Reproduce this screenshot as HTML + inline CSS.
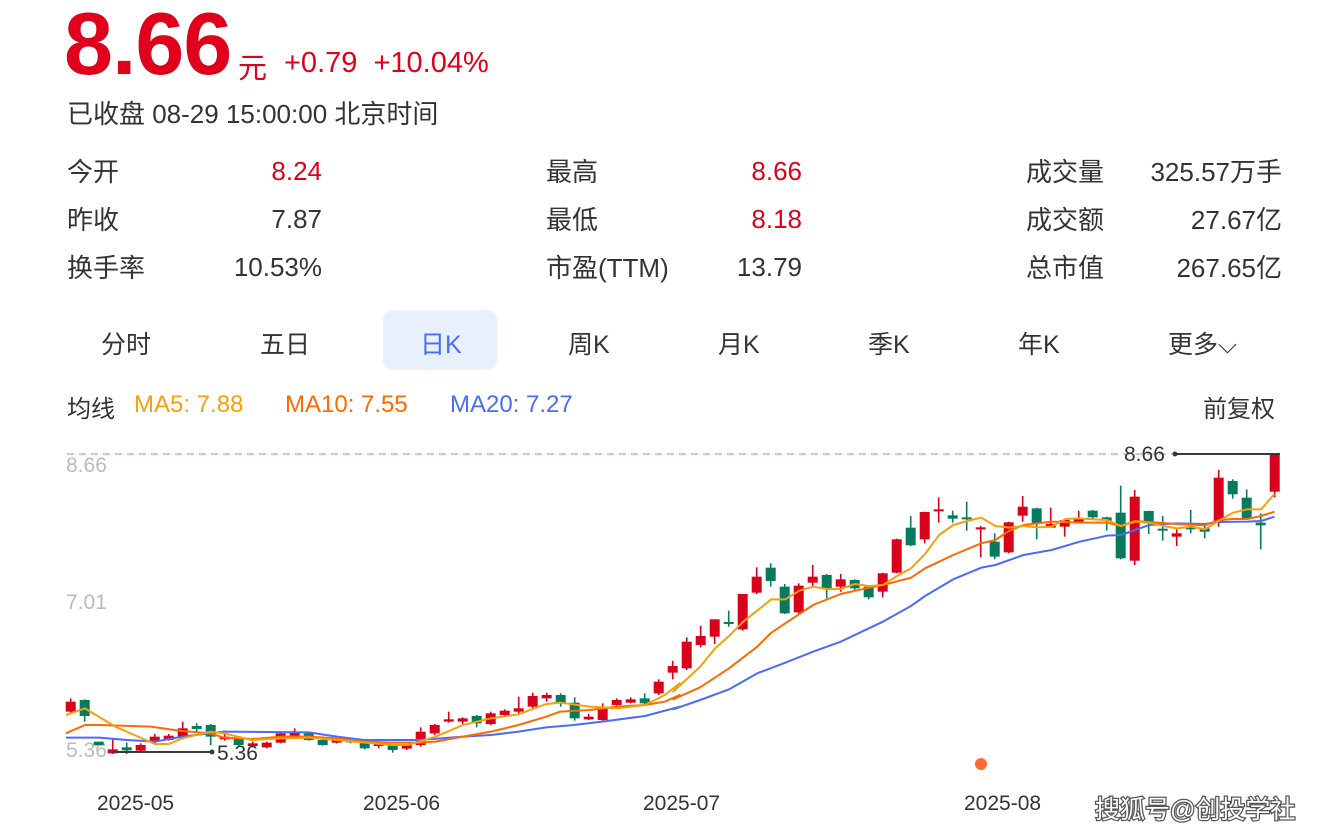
<!DOCTYPE html>
<html><head><meta charset="utf-8"><style>
body{margin:0;width:1337px;height:839px;background:#fff;overflow:hidden;font-family:"Liberation Sans","Noto Sans CJK SC",sans-serif;color:#333}
.a{position:absolute;white-space:nowrap}
.r{color:#e0001b}
.n{margin-top:4px}
</style></head><body>
<div class="a r" style="left:64px;top:-7px;font-size:88px;font-weight:bold;letter-spacing:-1px">8.66</div>
<div class="a r" style="left:238px;top:45px;font-size:29px">元</div>
<div class="a r" style="left:284px;top:47px;font-size:29px">+0.79&nbsp; +10.04%</div>
<div class="a" style="left:67px;top:94px;font-size:26px">已收盘 08-29 15:00:00 北京时间</div>

<div class="a" style="left:67px;top:152px;font-size:26px">今开</div>
<div class="a r n" style="left:220px;width:102px;text-align:right;top:152px;font-size:26px">8.24</div>
<div class="a" style="left:67px;top:200px;font-size:26px">昨收</div>
<div class="a n" style="left:220px;width:102px;text-align:right;top:200px;font-size:26px">7.87</div>
<div class="a" style="left:67px;top:248px;font-size:26px">换手率</div>
<div class="a n" style="left:200px;width:122px;text-align:right;top:248px;font-size:26px">10.53%</div>

<div class="a" style="left:546px;top:152px;font-size:26px">最高</div>
<div class="a r n" style="left:700px;width:102px;text-align:right;top:152px;font-size:26px">8.66</div>
<div class="a" style="left:546px;top:200px;font-size:26px">最低</div>
<div class="a r n" style="left:700px;width:102px;text-align:right;top:200px;font-size:26px">8.18</div>
<div class="a" style="left:546px;top:248px;font-size:26px">市盈(TTM)</div>
<div class="a n" style="left:700px;width:102px;text-align:right;top:248px;font-size:26px">13.79</div>

<div class="a" style="left:1026px;top:152px;font-size:26px">成交量</div>
<div class="a" style="left:1120px;width:162px;text-align:right;top:152px;font-size:26px">325.57万手</div>
<div class="a" style="left:1026px;top:200px;font-size:26px">成交额</div>
<div class="a" style="left:1120px;width:162px;text-align:right;top:200px;font-size:26px">27.67亿</div>
<div class="a" style="left:1026px;top:248px;font-size:26px">总市值</div>
<div class="a" style="left:1120px;width:162px;text-align:right;top:248px;font-size:26px">267.65亿</div>

<div class="a" style="left:383px;top:310px;width:114px;height:60px;background:#e8f0fd;border-radius:10px"></div>
<div class="a" style="left:101px;top:325px;font-size:25px">分时</div>
<div class="a" style="left:260px;top:325px;font-size:25px">五日</div>
<div class="a" style="left:420px;top:325px;font-size:25px;color:#4a6cf7">日K</div>
<div class="a" style="left:568px;top:325px;font-size:25px">周K</div>
<div class="a" style="left:718px;top:325px;font-size:25px">月K</div>
<div class="a" style="left:868px;top:325px;font-size:25px">季K</div>
<div class="a" style="left:1018px;top:325px;font-size:25px">年K</div>
<div class="a" style="left:1168px;top:325px;font-size:25px">更多⌵</div>

<div class="a" style="left:67px;top:389px;font-size:24px">均线</div>
<div class="a" style="left:134px;top:391px;font-size:24px;color:#f5a00f">MA5: 7.88</div>
<div class="a" style="left:285px;top:391px;font-size:24px;color:#ff6a00">MA10: 7.55</div>
<div class="a" style="left:450px;top:391px;font-size:24px;color:#4a6cf7">MA20: 7.27</div>
<div class="a" style="left:1203px;top:389px;font-size:24px">前复权</div>

<svg class="a" style="left:0;top:0" width="1337" height="839" id="s">
<line x1="67" y1="454" x2="1280" y2="454" stroke="#f4a0a0" stroke-width="1.5" stroke-dasharray="7,5"/>
<text x="66" y="472" font-size="21" fill="#bbb" font-family="Liberation Sans">8.66</text>
<text x="66" y="609" font-size="21" fill="#bbb" font-family="Liberation Sans">7.01</text>
<text x="66" y="757" font-size="21" fill="#bbb" font-family="Liberation Sans">5.36</text>
<g id="g"></g>
<line x1="113" y1="752" x2="212" y2="752" stroke="#333a44" stroke-width="2"/><circle cx="212" cy="752" r="2.5" fill="#333a44"/>
<text x="217" y="760" font-size="21" fill="#333" font-family="Liberation Sans">5.36</text>
<line x1="1175" y1="454" x2="1280" y2="454" stroke="#333a44" stroke-width="2"/><circle cx="1175" cy="454" r="2.5" fill="#333a44"/>
<text x="1124" y="461" font-size="21" fill="#333" font-family="Liberation Sans">8.66</text>
<circle cx="981" cy="764" r="6" fill="#ff6a33"/>
<text x="97" y="810" font-size="21" fill="#333" font-family="Liberation Sans">2025-05</text>
<text x="363" y="810" font-size="21" fill="#333" font-family="Liberation Sans">2025-06</text>
<text x="643" y="810" font-size="21" fill="#333" font-family="Liberation Sans">2025-07</text>
<text x="964" y="810" font-size="21" fill="#333" font-family="Liberation Sans">2025-08</text>
<text x="1095" y="818" font-size="25" fill="#fff" stroke="#555" stroke-width="2.5" paint-order="stroke" font-family="Liberation Sans,Noto Sans CJK SC,sans-serif">搜狐号@创投学社</text>
</svg>
<script>
var z1=[[785,815,775,818,'r'],[780,828,778,845,'g'],[908,913,905,915,'g'],[928,940,895,942,'r'],[925,928,908,942,'g'],[915,932,910,934,'r'],[890,905,882,910,'r'],[887,900,882,902,'r'],[865,890,845,892,'r'],[861,864,850,875,'g'],[855,890,852,915,'g'],[890,898,882,902,'r'],[895,915,892,918,'g'],[910,918,905,922,'r'],[908,922,905,925,'r'],[880,908,875,910,'r'],[875,890,865,892,'r'],[880,900,878,902,'g'],[900,915,895,917,'g'],[895,908,890,910,'r'],[900,907,895,910,'g'],[908,925,905,928,'g'],[910,918,905,925,'r'],[915,930,912,938,'g'],[915,926,912,930,'r'],[875,915,862,920,'r'],[855,880,852,885,'r'],[838,845,815,848,'r'],[835,845,832,852,'r'],[828,850,825,862,'g'],[820,852,815,855,'r'],[812,825,808,828,'r'],[805,815,770,820,'r'],[768,800,758,805,'r'],[765,775,758,785,'r'],[765,790,760,800,'g'],[788,835,772,842,'g'],[830,838,822,840,'r'],[800,840,790,845,'r'],[780,795,775,798,'r'],[778,788,772,790,'r'],[775,790,760,795,'g'],[725,760,718,765,'r'],[678,698,662,718,'r']];
var z2=[[605,685,592,690,'r'],[588,615,558,622,'r'],[538,590,538,612,'r'],[546,552,512,560,'g'],[462,568,462,572,'r'],[410,458,382,462,'r'],[383,423,370,440,'g'],[440,520,432,522,'g'],[437,517,430,520,'r'],[410,428,375,440,'r'],[405,445,402,475,'g'],[418,440,402,455,'r'],[420,445,418,452,'g'],[440,472,438,478,'g'],[400,455,398,472,'r'],[298,398,296,400,'r'],[263,316,228,318,'g'],[216,298,215,310,'r'],[208,214,172,248,'r'],[229,233,212,248,'g'],[232,238,185,272,'g'],[262,268,258,352,'r'],[305,350,280,358,'g'],[247,337,245,340,'r'],[200,227,168,245,'r'],[205,250,203,298,'g'],[255,260,203,262,'r'],[240,260,238,290,'r'],[235,245,212,250,'r'],[212,232,210,240,'g'],[232,242,230,272,'g'],[218,355,137,358,'g'],[170,362,150,375,'r'],[213,250,212,282,'g'],[266,272,228,302,'g'],[280,290,268,318,'r'],[262,268,210,280,'g'],[268,272,255,295,'g'],[113,243,90,260,'r'],[123,163,118,176,'g'],[173,235,148,238,'g'],[248,256,220,328,'g'],[42,155,40,172,'r']];
var h='',c,F=3;
function cd(x,d){var t=440+d[0]/F,b=440+d[1]/F,wt=440+d[2]/F,wb=440+d[3]/F;c=d[4]=='r'?'#d9001b':'#0a7a5e';if(b-t<2){t-=1;b+=1;}
h+='<line x1="'+x+'" y1="'+wt+'" x2="'+x+'" y2="'+wb+'" stroke="'+c+'" stroke-width="1.6"/><rect x="'+(x-5)+'" y="'+t+'" width="10" height="'+(b-t)+'" fill="'+c+'"/>';}
z1.forEach(function(d,i){cd(70.7+i*14,d)});
z2.forEach(function(d,i){cd(70.7+(44+i)*14,d)});
function pl(a,b,col){var p=a.map(function(q){return (60+q[0]/2.53)+','+(440+q[1]/F)}).concat(b.map(function(q){return (660+q[0]/2.49)+','+(440+q[1]/F)}));h+='<polyline points="'+p.join(' ')+'" fill="none" stroke="'+col+'" stroke-width="2" stroke-linejoin="round"/>';}
pl([[15,893],[100,893],[170,900],[240,905],[310,890],[415,875],[630,877],[700,890],[770,900],[910,900],[1020,890],[1090,885],[1160,875],[1230,862],[1300,855],[1372,845],[1480,828],[1568,800]],[[33,808],[100,780],[172,748],[242,700],[312,668],[381,635],[450,605],[520,565],[555,545],[625,498],[660,468],[730,418],[800,383],[835,375],[905,345],[975,330],[1045,305],[1113,287],[1148,285],[1218,255],[1287,250],[1357,252],[1392,246],[1462,245],[1497,243],[1530,230]],'#4a6cf7');
pl([[15,880],[63,855],[100,855],[230,860],[300,872],[380,880],[415,893],[485,897],[560,890],[630,890],[700,895],[770,905],[840,908],[910,908],[950,905],[1020,890],[1090,875],[1160,855],[1230,830],[1265,815],[1340,810],[1410,800],[1480,795],[1530,785],[1568,765]],[[33,778],[100,742],[172,685],[242,620],[277,578],[312,550],[381,495],[450,462],[520,443],[555,435],[625,413],[660,385],[730,345],[800,310],[835,300],[870,272],[905,255],[975,245],[1045,248],[1113,248],[1148,258],[1183,243],[1218,246],[1287,252],[1357,256],[1392,240],[1427,237],[1462,237],[1497,228],[1530,215]],'#ff6a00');
pl([[15,825],[63,805],[140,860],[240,912],[275,912],[310,895],[380,875],[415,880],[485,900],[560,895],[630,893],[700,900],[840,915],[880,915],[950,890],[1020,855],[1090,835],[1160,823],[1230,792],[1265,788],[1340,800],[1410,805],[1480,795],[1530,765],[1568,730]],[[33,755],[100,680],[137,625],[172,588],[207,545],[242,512],[277,478],[312,478],[347,452],[381,440],[416,447],[450,447],[485,432],[520,438],[555,435],[590,408],[625,385],[660,342],[695,285],[730,255],[765,243],[800,233],[835,258],[870,263],[905,258],[940,262],[975,260],[1010,237],[1045,235],[1080,238],[1113,240],[1148,258],[1183,245],[1218,248],[1252,258],[1287,265],[1322,260],[1357,268],[1392,242],[1427,218],[1462,208],[1497,208],[1530,162]],'#f5a00f');
document.getElementById('g').innerHTML=h;
</script>
</body></html>
